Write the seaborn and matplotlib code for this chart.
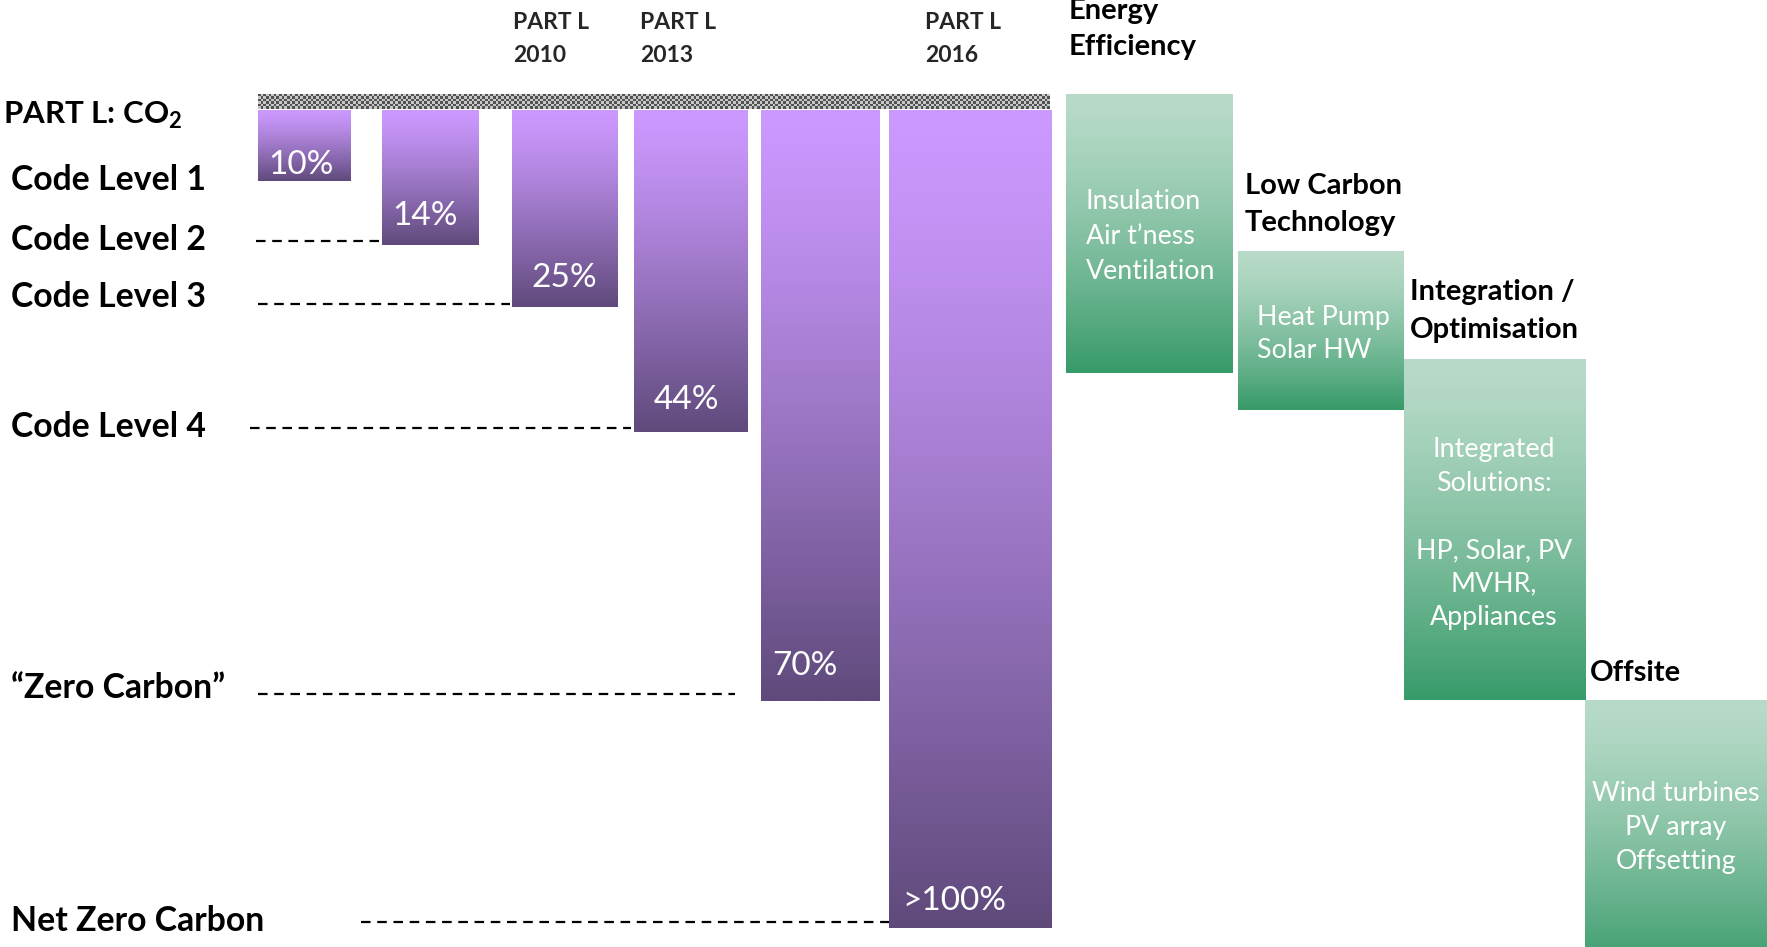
import numpy as np
import pandas as pd
import matplotlib
matplotlib.use("Agg")
import matplotlib.pyplot as plt
import seaborn as sns
from matplotlib.colors import to_rgb

# ---------------- data ----------------
stages = ["Code Level 1", "Code Level 2", "Part L 2010", "Part L 2013",
          "Zero Carbon", "Part L 2016"]
reduction_labels = ["10%", "14%", "25%", "44%", "70%", ">100%"]
bar_depth = [8.6, 16.4, 24.1, 39.3, 72.3, 100.0]      # schematic depth, Net Zero = 100

level_labels = ["Code Level 1", "Code Level 2", "Code Level 3", "Code Level 4",
                "\u201cZero Carbon\u201d", "Net Zero Carbon"]
level_depth = [8.6, 16.0, 23.7, 38.8, 71.4, 99.3]

part_l_headers = ["PART L\n2010", "PART L\n2013", "PART L\n2016"]
part_l_bar = [2, 3, 5]

measure_titles = ["Energy\nEfficiency", "Low Carbon\nTechnology",
                  "Integration /\nOptimisation", "Offsite"]
measure_items = [["Insulation", "Air t\u2019ness", "Ventilation"],
                 ["Heat Pump", "Solar HW"],
                 ["Integrated", "Solutions:", "", "HP, Solar, PV", "MVHR,", "Appliances"],
                 ["Wind turbines", "PV array", "Offsetting"]]
measure_start = [-2.0, 17.2, 30.4, 72.1]
measure_end = [32.1, 36.6, 72.1, 106.0]

# ---------------- layout (display units) ----------------
W_UNITS = 1567
def D(yd):                       # picture row -> depth units
    return (yd - 98.0) / 7.25

bar_left = [229, 339, 454, 562, 675, 788]
bar_right = [311, 425, 548, 663, 780, 932]
pct_x = [238, 348, 471, 580, 685, 800]
pct_y = [146, 192, 247, 355, 591, 799]
line_x0 = [None, 227, 229, 222, 229, 320]
line_x1 = [None, 336, 452, 560, 652, 788]
level_text_y = [160, 213, 263, 379, 610, 817]
header_x = [455, 568, 820]
measure_left = [945, 1098, 1245, 1406]
measure_right = [1093, 1245, 1406, 1575]
title_x = [948, 1104, 1250, 1410]
title_y = [[10, 42], [165, 198], [259, 293], [597]]
item_x = [963, 1115, 1325, 1486]
item_ha = ["left", "left", "center", "center"]
item_y0 = [179, 282, 399, 704]
item_step = [31, 29, 29.8, 30]

PURPLE_TOP, PURPLE_BOT = "#CC99FF", "#5F4A7B"
GREEN_TOP, GREEN_BOT = "#B8DBC9", "#379A69"

sns.set_theme(style="white")
plt.rcParams["font.family"] = ["Lato", "DejaVu Sans"]
plt.rcParams["mathtext.fontset"] = "custom"
plt.rcParams["mathtext.rm"] = "Lato"
plt.rcParams["mathtext.bf"] = "Lato:bold"

fig = plt.figure(figsize=(17.67, 9.47), dpi=100)
ax = fig.add_axes([0, 0, 1, 1])

# purple bars via seaborn
df = pd.DataFrame({"stage": stages, "depth": bar_depth})
sns.barplot(data=df, x="stage", y="depth", order=stages, color=PURPLE_TOP,
            saturation=1, errorbar=None, ax=ax, zorder=2)
bars = list(ax.patches)[:len(stages)]
for p, l, r in zip(bars, bar_left, bar_right):
    p.set_x(l)
    p.set_width(r - l)
    p.set_linewidth(0)

# green measure boxes
greens = []
for s, e, l, r in zip(measure_start, measure_end, measure_left, measure_right):
    cont = ax.bar(l, e - s, bottom=s, width=r - l, align="edge",
                  color=GREEN_TOP, linewidth=0, zorder=2)
    greens.append(cont.patches[0])


def gradient(patch, top, bot, gamma):
    x0, y0 = patch.get_x(), patch.get_y()
    x1, y1 = x0 + patch.get_width(), y0 + patch.get_height()
    t = np.linspace(0, 1, 400) ** gamma
    c0, c1 = np.array(to_rgb(top)), np.array(to_rgb(bot))
    img = (c0[None, :] * (1 - t[:, None]) + c1[None, :] * t[:, None])[:, None, :]
    im = ax.imshow(img, extent=(x0, x1, max(y0, y1), min(y0, y1)), origin="upper",
                   aspect="auto", interpolation="bilinear", zorder=2.1)
    im.set_clip_path(patch)
    patch.set_facecolor("none")


for p in bars:
    gradient(p, PURPLE_TOP, PURPLE_BOT, 1.25)
for p in greens:
    gradient(p, GREEN_TOP, GREEN_BOT, 1.35)

# checkered CO2 baseline strip
nx, ny = 300, 6
chk = np.add.outer(np.arange(ny), np.arange(nx)) % 2
light, dark = np.array(to_rgb("#c8c8c8")), np.array(to_rgb("#525252"))
strip = np.where(chk[..., None] == 1, light, dark)
ax.imshow(strip, extent=(229, 931, D(96.7), D(83.4)), origin="upper",
          aspect="auto", interpolation="nearest", zorder=2)

# dashed level lines
for d, x0, x1 in zip(level_depth, line_x0, line_x1):
    if x0 is None:
        continue
    ax.plot([x0, x1], [d, d], color="black", lw=1.6, ls=(0, (4.3, 3)),
            zorder=1)

# level labels
ax.text(3, D(102), r"PART L: CO$_\mathbf{2}$", fontsize=22.5, fontweight="bold",
        ha="left", va="center", color="black")
for lab, yd in zip(level_labels, level_text_y):
    ax.text(10, D(yd), lab, fontsize=24.3, fontweight="bold", ha="left",
            va="center", color="black")

# percentage labels
for lab, x, yd in zip(reduction_labels, pct_x, pct_y):
    ax.text(x, D(yd), lab, fontsize=24, color="white", ha="left", va="center",
            zorder=3)

# Part L headers
for h, x in zip(part_l_headers, header_x):
    l1, l2 = h.split("\n")
    ax.text(x, D(20), l1, fontsize=16.5, fontweight="bold", ha="left", va="center")
    ax.text(x, D(49), l2, fontsize=16.5, fontweight="bold", ha="left", va="center")

# measure titles & items
for i in range(len(measure_titles)):
    for line, yd in zip(measure_titles[i].split("\n"), title_y[i]):
        ax.text(title_x[i], D(yd), line, fontsize=21, fontweight="bold",
                ha="left", va="center", color="black")
    for k, line in enumerate(measure_items[i]):
        if line:
            ax.text(item_x[i], D(item_y0[i] + k * item_step[i]), line,
                    fontsize=19.3, color="white", ha=item_ha[i], va="center",
                    zorder=3)

ax.set_xlim(0, W_UNITS)
ax.set_ylim(D(840), D(0))
ax.axis("off")
fig.savefig("out.png", dpi=100, facecolor="white")
